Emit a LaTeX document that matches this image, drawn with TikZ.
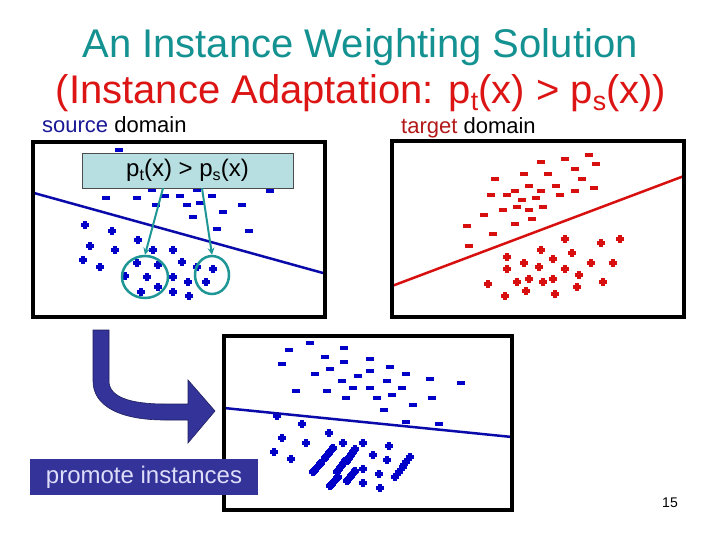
\documentclass[tikz,border=0pt]{standalone}
\usepackage{fontspec}
\setmainfont{Liberation Sans}
\usepackage{graphicx}
\usetikzlibrary{shapes.geometric,calc}

\definecolor{titleteal}{RGB}{20,145,145}
\definecolor{titlered}{RGB}{220,20,20}
\definecolor{srcdark}{RGB}{25,25,150}
\definecolor{tgtdark}{RGB}{180,25,25}
\definecolor{dotblue}{RGB}{0,0,200}
\definecolor{lineblue}{RGB}{10,10,170}
\definecolor{dotred}{RGB}{215,15,15}
\definecolor{circteal}{RGB}{30,150,150}
\definecolor{boxblue}{RGB}{183,222,224}
\definecolor{promo}{RGB}{51,51,153}
\definecolor{promotext}{RGB}{222,222,250}

\newcommand{\lowsub}[1]{\raisebox{-0.17em}{\scalebox{0.67}{#1}}}
\newcommand{\fs}[1]{\fontsize{#1}{#1}\selectfont}

\tikzset{
 minus/.pic={\fill (-4.2,-1.6) rectangle (4.2,1.6);},
 plus/.pic={\fill (-4,-1.6) rectangle (4,1.6); \fill (-1.6,-4) rectangle (1.6,4);},
 panel/.style={line width=4.5pt},
 sepline/.style={line width=2.5pt},
}

\begin{document}
\begin{tikzpicture}[x=1pt,y=-1pt]
 \useasboundingbox (0,0) rectangle (720,540);
 \fill[white] (0,0) rectangle (720,540); %背景

 \node[titleteal,font=\fs{40},anchor=base] (title) at (360,58) {An Instance Weighting Solution}; %題
 \node[titlered,font=\fs{40},anchor=base,inner sep=1pt] (subtitle) at (361,104) {(Instance Adaptation: p\lowsub{t}(x) > p\lowsub{s}(x))}; %副題
 \node[font=\fs{22},anchor=base west,inner sep=0] (srclab) at (42,133) {\textcolor{srcdark}{source} domain};
 \node[font=\fs{22},anchor=base west,inner sep=0] (tgtlab) at (401,134) {\textcolor{tgtdark}{target} domain};

 % source domain
 \foreach \p in {(119,150),(270,191),(106,198),(137,198),(165,196),(180,196),(152,190),(197,190),(212,196),(156,205),(187,205),(200,203),(242,205),(223,212),(193,217),(217,229),(249,231)}
  \pic[dotblue] at \p {minus};
 \foreach \p in {(85,225),(112,231),(138,240),(90,246),(115,250),(153,250),(173,250),(83,260),(100,267),(137,263),(158,265),(182,262),(197,267),(125,276),(147,277),(173,277),(213,269),(158,287),(173,292),(188,282),(206,282),(141,292),(189,296)}
  \pic[dotblue] at \p {plus};
 \draw[sepline,lineblue] (34,193)--(323,273); %境界
 \draw[panel] (33,142) rectangle (325,317);
 \node[draw=gray!60!black,fill=boxblue,minimum width=211pt,minimum height=35pt,font=\fs{24}] (ratio) at (187.5,170.5) {p\lowsub{t}(x) > p\lowsub{s}(x)};
 \node[ellipse,draw=circteal,line width=2.5pt,minimum width=46pt,minimum height=42pt] (grp1) at (145,277) {};
 \node[ellipse,draw=circteal,line width=2.5pt,minimum width=34pt,minimum height=38pt] (grp2) at (212,275) {};
 \draw[circteal,line width=2pt,->,>=stealth] ([xshift=-24.5pt]ratio.south)--(grp1.north);
 \draw[circteal,line width=2pt,->,>=stealth] ([xshift=14.5pt]ratio.south)--(grp2.north);

 % target domain
 \foreach \p in {(589,155),(565,159),(541,162),(596,164),(575,169),(524,174),(548,174),(495,179),(582,179),(529,186),(556,186),(594,188),(515,191),(541,191),(575,191),(491,195),(507,195),(560,195),(536,198),(522,200),(517,207),(543,207),(503,210),(529,210),(484,215),(532,219),(515,224),(467,226),(493,234),(469,246)}
  \pic[dotred] at \p {minus};
 \foreach \p in {(565,239),(620,239),(601,243),(541,250),(572,253),(507,257),(553,259),(524,263),(591,263),(613,263),(539,267),(507,269),(565,269),(579,275),(529,279),(553,279),(488,284),(517,282),(543,282),(603,282),(577,287),(526,291),(555,294),(505,296)}
  \pic[dotred] at \p {plus};
 \draw[sepline,dotred] (392,286)--(684,176); %境界
 \draw[panel] (392,141) rectangle (684,317);

 % weighted source
 \foreach \p in {(310,343),(289,350),(344,348),(325,357),(282,364),(344,362),(370,359),(330,369),(390,367),(315,374),(370,371),(406,374),(358,376),(430,379),(461,383),(342,381),(387,381),(353,388),(370,388),(402,388),(296,391),(327,391),(392,395),(346,398),(377,398),(432,398),(413,405),(384,410),(406,422),(439,424)}
  \pic[dotblue] at \p {minus};
 \foreach \p in {(277,416),(302,424),(329,433),(282,438),(306,443),(343,443),(363,443),(389,446),(274,452),(373,455),(291,459),(387,460),(363,469),(379,474),(363,483),(380,488)}
  \pic[dotblue] at \p {plus};
 \foreach \ax/\ay/\bx/\by in {325/458/333/448,347/461/355/449,313/472/321/463,337/472/345/461,330/486/338/477,347/481/355/471,395/477/410/457}
  \foreach \t in {0,0.125,...,1}
   \pic[dotblue] at ($(\ax,\ay)!\t!(\bx,\by)$) {plus}; %重み付き
 \draw[sepline,lineblue] (224,408)--(512,437); %境界
 \draw[panel] (224,336) rectangle (512,510);

 \filldraw[fill=promo,draw=promo!60!black,line width=0.6pt] (93,330)--(109,330)--(109,381) .. controls (109,397) and (130,404) .. (165,404)--(188,404)--(188,380)--(215,411)--(188,443)--(188,420)--(165,420) .. controls (118,420) and (93,405) .. (93,381)--cycle; %矢印
 \node[fill=promo,text=promotext,minimum width=228pt,minimum height=36pt,inner sep=0,font=\fs{24}] (promote) at (144,477) {promote instances};
 \node[font=\fs{14}] (pageno) at (670,503) {15};
\end{tikzpicture}
\end{document}
